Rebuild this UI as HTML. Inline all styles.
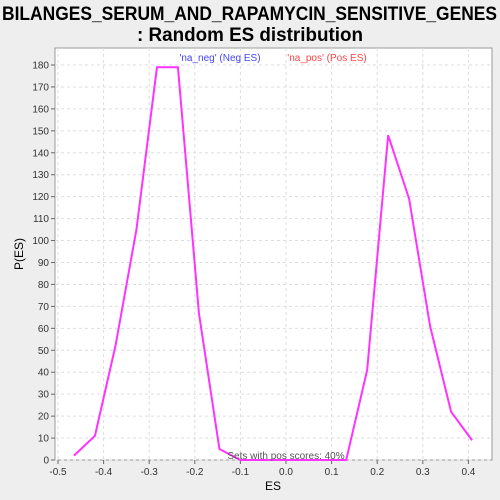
<!DOCTYPE html>
<html><head><meta charset="utf-8"><style>
html,body{margin:0;width:500px;height:500px;overflow:hidden;background:#eeeeee;font-family:"Liberation Sans",sans-serif;}
svg{display:block;}
svg text{font-family:"Liberation Sans",sans-serif;}
</style></head><body>
<svg width="500" height="500">
<text x="2" y="20" font-size="19" font-weight="bold" textLength="495" lengthAdjust="spacingAndGlyphs">BILANGES_SERUM_AND_RAPAMYCIN_SENSITIVE_GENES</text>
<text x="137" y="41" font-size="19" font-weight="bold" textLength="226" lengthAdjust="spacingAndGlyphs">: Random ES distribution</text>
<rect x="55" y="48" width="437" height="412" fill="#fff" stroke="#999"/>
<g id="grid"></g><g id="axes"></g>
<text x="220" y="61" text-anchor="middle" font-size="10" fill="#4444ff">'na_neg' (Neg ES)</text>
<text x="327" y="61" text-anchor="middle" font-size="10" fill="#ff4444">'na_pos' (Pos ES)</text>
<polyline id="line" fill="none" stroke="#ff33ff" stroke-width="2"/>
<text x="286" y="459" text-anchor="middle" font-size="10" fill="#555">Sets with pos scores: 40%</text>
<text x="273" y="490" text-anchor="middle" font-size="12">ES</text>
<text x="23" y="254" text-anchor="middle" font-size="12" transform="rotate(-90 23 254)">P(ES)</text>
</svg>
<script>
const esValues=[-0.465,-0.419,-0.374,-0.328,-0.283,-0.237,-0.191,-0.146,-0.1,-0.054,-0.008,0.04,0.086,0.132,0.178,0.224,0.27,0.316,0.362,0.408];
const pValues=[2,11,52,105,179,179,67,5,0,0,0,0,0,0,41,148,119,61,22,9];
const xTicks=[-0.5,-0.4,-0.3,-0.2,-0.1,0.0,0.1,0.2,0.3,0.4];
const yTicks=[0,10,20,30,40,50,60,70,80,90,100,110,120,130,140,150,160,170,180];
const NS="http://www.w3.org/2000/svg";
const X=v=>286+v*456, Y=v=>460-v*395/180;
const grid=document.getElementById('grid'), axes=document.getElementById('axes');
function mk(tag,attrs,parent){const e=document.createElementNS(NS,tag);for(const k in attrs)e.setAttribute(k,attrs[k]);parent.appendChild(e);return e;}
xTicks.forEach(t=>{
 const g=mk('line',{x1:X(t),x2:X(t),y1:48,y2:460,stroke:'#ddd','stroke-dasharray':'3,3'},grid);
 
 
 const tk=mk('line',{x1:X(t),x2:X(t),y1:460,y2:464,stroke:'#666'},axes);
 
 
 const l=mk('text',{x:X(t),y:475,'text-anchor':'middle','font-size':'10',fill:'#333'},axes);
 l.textContent=t.toFixed(1);
 
 
});
yTicks.forEach(t=>{
 const g=mk('line',{x1:55,x2:492,y1:Y(t),y2:Y(t),stroke:'#ddd','stroke-dasharray':'3,3'},grid);
 
 
 const tk=mk('line',{x1:51,x2:55,y1:Y(t),y2:Y(t),stroke:'#666'},axes);
 
 
 const l=mk('text',{x:49,y:Y(t)+3.5,'text-anchor':'end','font-size':'10',fill:'#333'},axes);
 l.textContent=t;
 
 
});
document.getElementById('line').setAttribute('points',esValues.map((v,i)=>X(v)+','+Y(pValues[i])).join(' '));
</script>
</body></html>
